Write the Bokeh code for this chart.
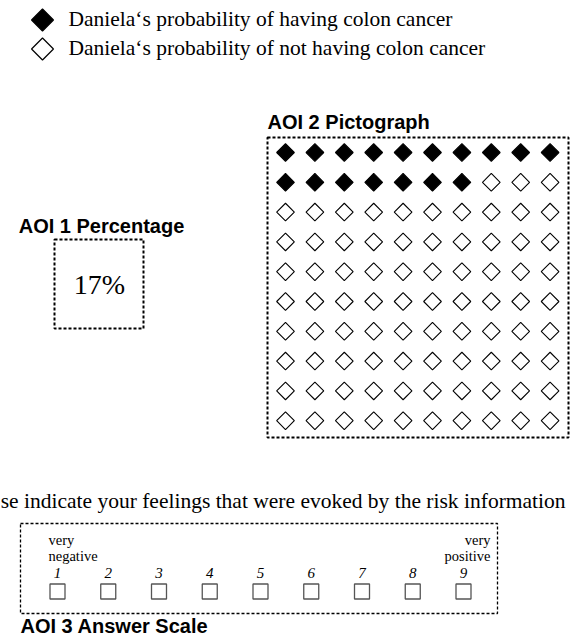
import numpy as np
from bokeh.plotting import figure
from bokeh.models import Range1d, ColumnDataSource
from bokeh.core.properties import value
from bokeh.embed import file_html
from bokeh.resources import INLINE

# ---- data ----
legend_labels = ["Daniela\u2018s probability of having colon cancer",
                 "Daniela\u2018s probability of not having colon cancer"]
percentage = 17            # AOI 1 value (%)
grid_rows = 10
grid_cols = 10
aoi_titles = ["AOI 1 Percentage", "AOI 2 Pictograph", "AOI 3 Answer Scale"]
# the reference shows the question cut at the left edge
question = "se indicate your feelings that were evoked by the risk information"
scale_points = [1, 2, 3, 4, 5, 6, 7, 8, 9]
scale_left = ["very", "negative"]
scale_right = ["very", "positive"]

SERIF = value("Liberation Serif")
SANS = value("Liberation Sans")

W, H = 572, 638
p = figure(width=W, height=H, output_backend="svg", toolbar_location=None,
           x_range=Range1d(0, W), y_range=Range1d(H, 0),
           min_border=0, outline_line_color=None, background_fill_color="white")
p.axis.visible = False
p.grid.visible = False


def base(y, fs):
    """shift so that the glyph baseline sits at pixel row y"""
    return [v - 0.38 * fs for v in y]


# ---- legend ----
p.scatter(x=[42, 42], y=[19.5, 48.5], marker="square", angle=np.pi / 4, size=15.5,
          fill_color=["black", "white"], line_color="black", line_width=1.2)
p.text(x=[68, 68], y=base([26.5, 55.5], 21.5), text=legend_labels, text_font=SERIF,
       text_font_size="21.5px", text_baseline="alphabetic", text_align="left", text_color="black")

# ---- AOI 1 percentage ----
p.quad(left=[54], right=[143], top=[239], bottom=[328], fill_color=None,
       line_color="black", line_width=2, line_dash="3 2")
p.text(x=[101], y=base([233], 20), text=[aoi_titles[0]], text_font=SANS, text_font_style="bold",
       text_font_size="20px", text_align="center", text_baseline="alphabetic")
p.text(x=[99], y=base([295], 28), text=[f"{percentage}%"], text_font=SERIF, text_font_size="28px",
       text_align="center", text_baseline="alphabetic")

# ---- AOI 2 pictograph ----
p.quad(left=[267], right=[568], top=[137], bottom=[437], fill_color=None,
       line_color="black", line_width=2, line_dash="3 2")
p.text(x=[267], y=base([129], 20), text=[aoi_titles[1]], text_font=SANS, text_font_style="bold",
       text_font_size="20px", text_align="left", text_baseline="alphabetic")
idx = np.arange(grid_rows * grid_cols)
cols = idx % grid_cols
rows = idx // grid_cols
gx = 285 + cols * 29.4
gy = 152 + rows * 29.8
filled = idx < percentage
src = ColumnDataSource(dict(x=gx, y=gy, fill=np.where(filled, "black", "white")))
p.scatter(x="x", y="y", source=src, marker="square", angle=np.pi / 4, size=12.5,
          fill_color="fill", line_color="black", line_width=1.1)

# ---- AOI 3 answer scale ----
p.text(x=[565], y=base([509], 21.5), text=[question], text_font=SERIF, text_font_size="21.5px",
       text_align="right", text_baseline="alphabetic")
p.quad(left=[20], right=[497], top=[523], bottom=[613], fill_color=None,
       line_color="black", line_width=1.3, line_dash="3 2")
sx = 57 + (np.array(scale_points) - 1) * 50.75
p.text(x=sx, y=base([578] * len(scale_points), 15), text=[str(s) for s in scale_points],
       text_font=SERIF, text_font_style="italic", text_font_size="15px",
       text_align="center", text_baseline="alphabetic")
p.scatter(x=sx, y=[591] * len(scale_points), marker="square", size=15,
          fill_color="white", line_color="#555555", line_width=1.3)
p.text(x=[48, 48], y=base([545, 561], 14.5), text=scale_left, text_font=SERIF, text_font_size="14.5px",
       text_align="left", text_baseline="alphabetic")
p.text(x=[490, 490], y=base([545, 561], 14.5), text=scale_right, text_font=SERIF, text_font_size="14.5px",
       text_align="right", text_baseline="alphabetic")
p.text(x=[20], y=base([633], 20), text=[aoi_titles[2]], text_font=SANS, text_font_style="bold",
       text_font_size="20px", text_align="left", text_baseline="alphabetic")

open("out.html", "w").write(file_html(p, INLINE))
